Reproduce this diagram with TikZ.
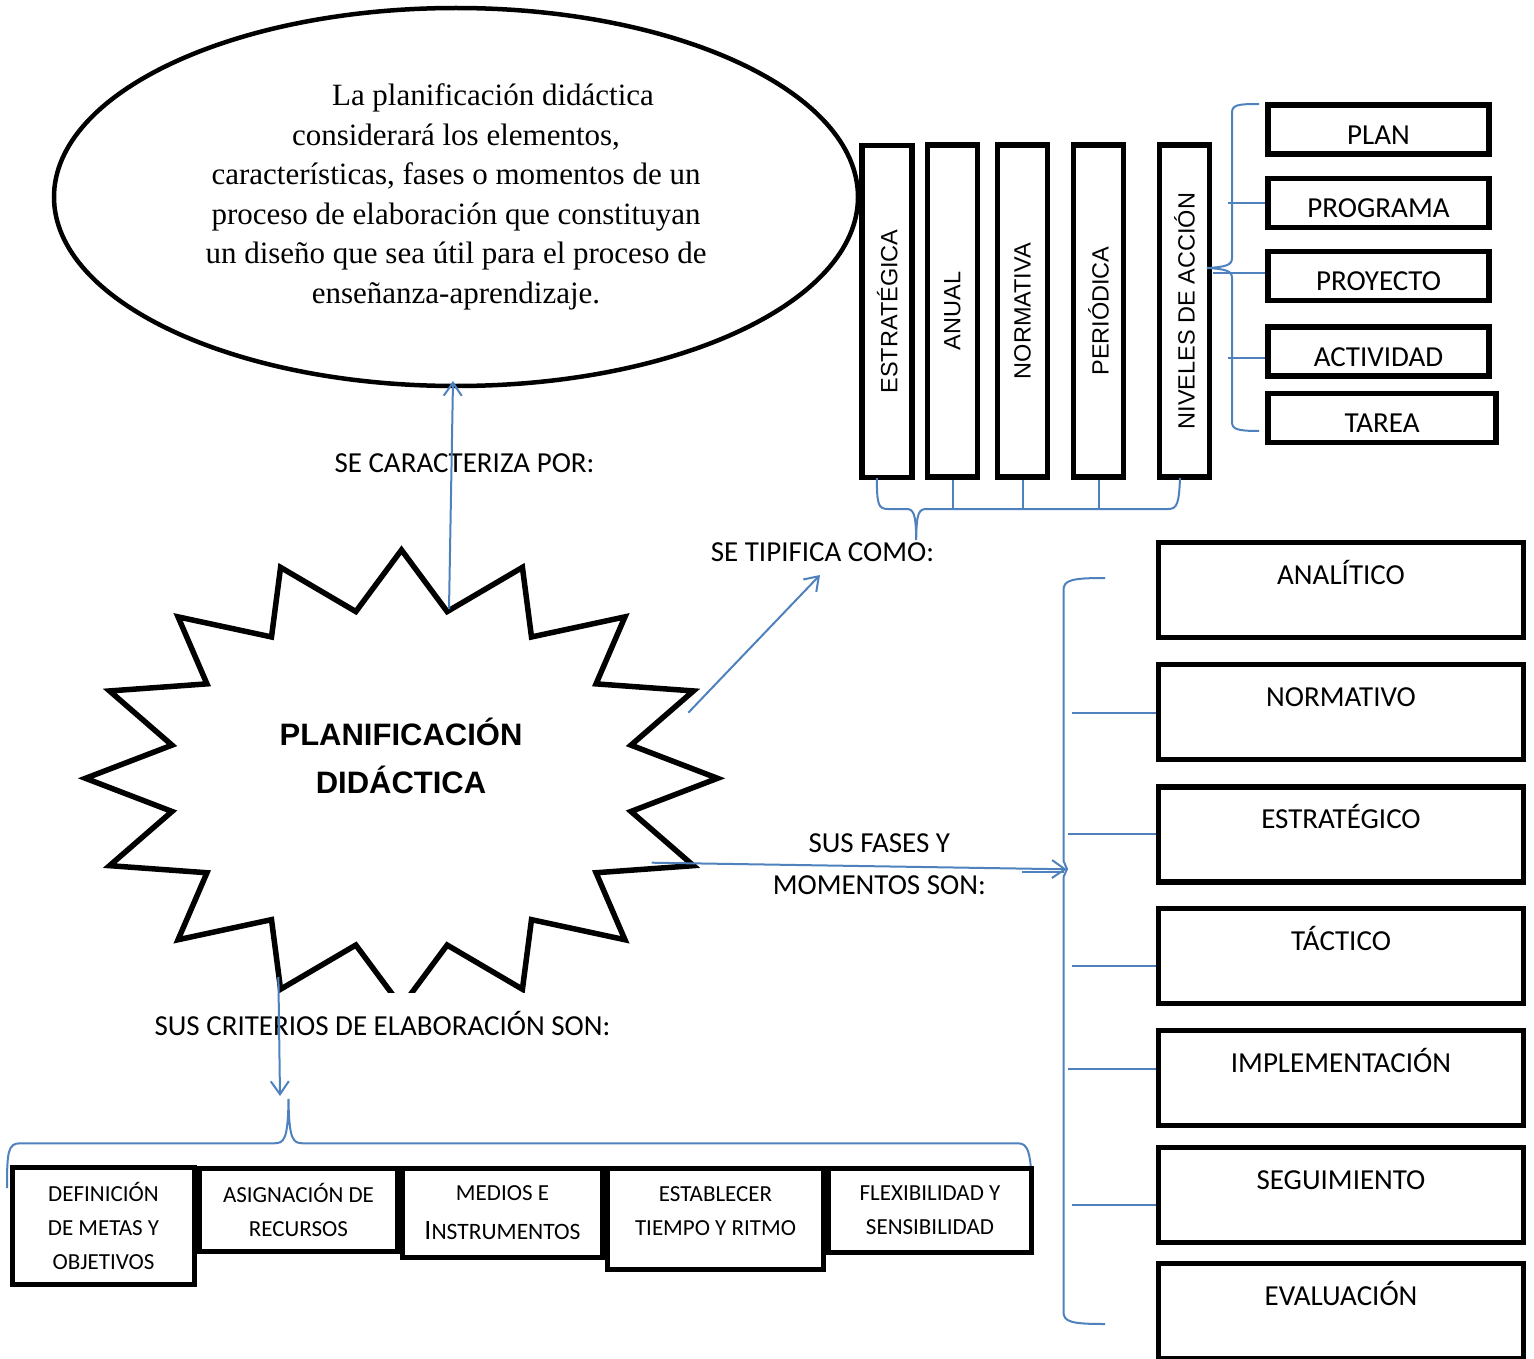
\documentclass[tikz,border=0pt]{standalone}
\usepackage{fontspec}
\setmainfont{Carlito}
\newfontfamily\serifT{Liberation Serif}
\newfontfamily\arialT{Liberation Sans}
\usetikzlibrary{arrows.meta,shapes.geometric}
\definecolor{bluec}{RGB}{79,129,189}
\begin{document}
\begin{tikzpicture}[x=1pt,y=-1pt,
  box/.style={draw, line width=5.5pt, inner sep=0pt, fill=white},
  vbox/.style={box, rotate=90, minimum width=332pt, minimum height=50pt, font=\arialT\fontsize{23.5}{27}\selectfont},
  sbox/.style={box, minimum width=221pt, minimum height=49pt, font=\fontsize{29}{34}\selectfont, text height=29pt, text depth=0pt},
  bbox/.style={box, minimum width=365pt, minimum height=95pt, font=\fontsize{29}{34}\selectfont, text height=20pt, text depth=31.4pt},
  cbox/.style={box, align=center, font=\fontsize{23}{34}\selectfont},
  bl/.style={draw=bluec, line width=2pt},
  arr/.style={bl, -{Straight Barb[length=13pt,width=18pt]}},
  lab/.style={inner sep=0pt, font=\fontsize{29}{42}\selectfont},
  starline/.style={draw, line width=5.5pt, line join=miter, fill=white}
]
\useasboundingbox (0,0) rectangle (1534,1359);

% ellipse with description
\node[ellipse, draw, line width=4.5pt, minimum width=804pt, minimum height=378pt, inner sep=0pt,
      align=center, font=\serifT\fontsize{31}{39.5}\selectfont] (ell) at (456,197)
 {\hspace*{74pt}La planificación didáctica\\
  considerará los elementos,\\
  características, fases o momentos de un\\
  proceso de elaboración que constituyan\\
  un diseño que sea útil para el proceso de\\
  enseñanza-aprendizaje.};

% vertical boxes
\node[vbox] (v1) at (887.2,311.5) {ESTRATÉGICA};
\node[vbox] (v2) at (952.5,311) {ANUAL};
\node[vbox] (v3) at (1022.5,311) {NORMATIVA};
\node[vbox] (v4) at (1098.5,311) {PERIÓDICA};
\node[vbox] (v5) at (1184.5,311) {NIVELES DE ACCIÓN};

% small boxes
\node[sbox] (s1) at (1378.5,129.7) {PLAN};
\node[sbox] (s2) at (1378.5,203) {PROGRAMA};
\node[sbox] (s3) at (1378.5,276) {PROYECTO};
\node[sbox] (s4) at (1378.5,351.5) {ACTIVIDAD};
\node[sbox, minimum width=228pt] (s5) at (1382,418) {TAREA};

% star
\draw[starline, shift={(401.5,778.3)}] (0:316 and 228.3)
  \foreach \k in {0,...,14} { -- ({\k*22.5+11.25}:234 and 170) -- ({(\k+1)*22.5}:316 and 228.3) }
  -- (348.75:234 and 170) -- cycle;
\node[align=center, inner sep=0pt, font=\arialT\bfseries\fontsize{31}{48}\selectfont] (title) at (401,756)
  {PLANIFICACIÓN\\DIDÁCTICA};

% labels
\node[lab, text height=18.7pt, text depth=0pt] (lcar) at (464.5,463) {SE CARACTERIZA POR:};
\node[lab, text height=18.7pt, text depth=0pt] (ltip) at (822.5,552) {SE TIPIFICA COMO:};
\node[lab, align=center] (lfas) at (879.3,864) {SUS FASES Y\\MOMENTOS SON:};
\node[lab, fill=white, text height=42pt, text depth=8pt, anchor=base] (lcri) at (382.5,1035.3)
  {SUS CRITERIOS DE ELABORACIÓN SON:};

% coordinates for connectors
\coordinate (caA) at (449,609);   \coordinate (caB) at (453,381);
\coordinate (tiA) at (688.3,712.7); \coordinate (tiB) at (820,575);
\coordinate (faA) at (651.7,862.7); \coordinate (faB) at (1066.7,869.3);
\coordinate (faC) at (1022,872);  \coordinate (faD) at (1064,872);
\coordinate (crA) at (278.4,977); \coordinate (crB) at (280,1096);

\draw[arr] (caA) -- (caB);
\draw[arr] (tiA) -- (tiB);
\draw[arr] (faA) -- (faB);
\draw[bl] (faC) -- (faD);
\draw[arr] (crA) -- (crB);

% brace under vertical boxes
\draw[bl] (876.8,478) .. controls (877,504) and (878,509) .. (888,509) -- (906,509)
  .. controls (913,509) and (916,512) .. (916.2,540)
  .. controls (916.4,512) and (919,509) .. (927,509) -- (1168,509)
  .. controls (1177,509) and (1179,504) .. (1180,478);
\foreach \n in {v2,v3,v4} \draw[bl] (\n.center |- 0,480) -- (\n.center |- 0,509);

% brace left of small boxes
\coordinate (tb1) at (1259,104);
\coordinate (tb2) at (1259,431);
\draw[bl] (tb1) .. controls (1237,104) and (1232,105) .. (1232,113) -- (1232,258)
  .. controls (1232,265) and (1226,267) .. (1207,268)
  .. controls (1226,269) and (1232,271) .. (1232,278) -- (1232,422)
  .. controls (1232,429) and (1237,431) .. (tb2);
\draw[bl] (1228,203.3) -- (s2.west |- 0,203.3);
\draw[bl] (1213,272.7) -- (s3.west |- 0,272.7);
\draw[bl] (1228,358.3) -- (s4.west |- 0,358.3);

% brace left of big boxes
\draw[bl] (1105,578) .. controls (1072,578) and (1063.5,580) .. (1063.5,590) -- (1063.5,861)
  -- (1067,869) -- (1063.5,877) -- (1063.5,1312)
  .. controls (1063.5,1322) and (1072,1324) .. (1105,1324);

% brace above bottom boxes
\draw[bl] (7,1188) .. controls (7,1152) and (8,1143.3) .. (20,1143.3) -- (274,1143.3)
  .. controls (284,1143.3) and (288,1140) .. (288.5,1099)
  .. controls (289,1140) and (293,1143.3) .. (303,1143.3) -- (1018,1143.3)
  .. controls (1028,1143.3) and (1031,1152) .. (1032,1190);

% big boxes
\node[bbox] (r1) at (1341,590) {ANALÍTICO};
\node[bbox] (r2) at (1341,712) {NORMATIVO};
\node[bbox] (r3) at (1341,834.5) {ESTRATÉGICO};
\node[bbox] (r4) at (1341,956) {TÁCTICO};
\node[bbox] (r5) at (1341,1078) {IMPLEMENTACIÓN};
\node[bbox] (r6) at (1341,1195) {SEGUIMIENTO};
\node[bbox] (r7) at (1341,1311) {EVALUACIÓN};
\draw[bl] (1072,712.5) -- (r2.west |- 0,712.5);
\draw[bl] (1068,833.7) -- (r3.west |- 0,833.7);
\draw[bl] (1072,966) -- (r4.west |- 0,966);
\draw[bl] (1068,1068.8) -- (r5.west |- 0,1068.8);
\draw[bl] (1072,1204.6) -- (r6.west |- 0,1204.6);

% bottom boxes
\node[cbox, minimum width=182pt, minimum height=117pt] (b1) at (103.5,1226) {DEFINICIÓN\\DE METAS Y\\OBJETIVOS};
\node[cbox, minimum width=198pt, minimum height=83pt] (b2) at (298.5,1210) {ASIGNACIÓN DE\\RECURSOS};
\node[cbox, minimum width=200pt, minimum height=89pt] (b3) at (502.5,1213)
  {MEDIOS E\\[5pt]{\fontsize{28}{34}\selectfont I}{\fontsize{23.5}{34}\selectfont NSTRUMENTOS}};
\node[cbox, minimum width=216pt, minimum height=101pt] (b4) at (715.5,1219) {ESTABLECER\\TIEMPO Y RITMO\\[-18pt]\mbox{}};
\node[cbox, minimum width=203pt, minimum height=84pt] (b5) at (930,1210.5) {FLEXIBILIDAD Y\\SENSIBILIDAD};
\end{tikzpicture}
\end{document}
